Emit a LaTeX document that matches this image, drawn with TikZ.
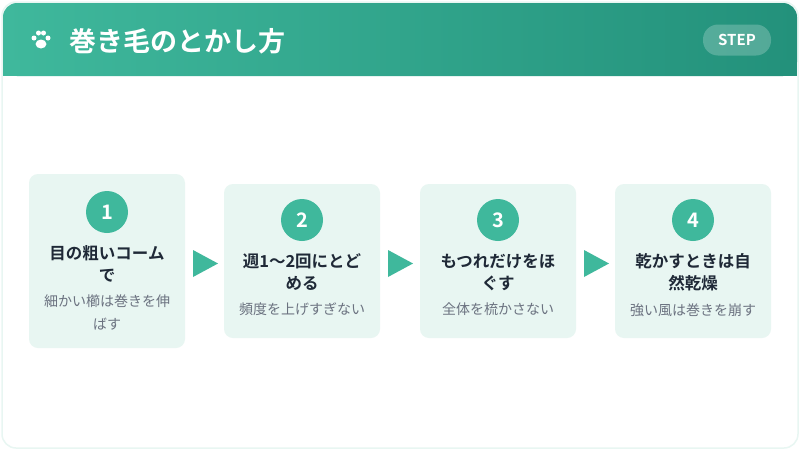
\documentclass[tikz,border=0pt]{standalone}
\usepackage{fontspec}
\setmainfont{Noto Sans CJK JP}
\newfontfamily\boldcjk{Noto Sans CJK JP Bold}
\usetikzlibrary{positioning,shadings}
\definecolor{HTeal}{HTML}{3FB89C}
\definecolor{HDeep}{HTML}{23917B}
\definecolor{CMint}{HTML}{E8F6F2}
\definecolor{TDark}{HTML}{1F2937}
\definecolor{TGray}{HTML}{6B7280}
\tikzset{
    card/.style = {fill=CMint, rounded corners=9pt},
    num/.style = {circle, fill=HTeal, minimum size=42pt, inner sep=0pt,
        text=white, font=\boldcjk\fontsize{20}{20}\selectfont},
    ttl/.style = {align=center, text=TDark, font=\boldcjk\fontsize{16.5}{22}\selectfont},
    sub/.style = {align=center, text=TGray, font=\fontsize{14}{23}\selectfont},
    tri/.style = {fill=HTeal}
}
\begin{document}
\begin{tikzpicture}[x=1pt,y=-1pt]
\useasboundingbox (0,0) rectangle (800,450);
\draw[fill=white, draw=CMint, line width=1.5pt, rounded corners=14pt] (2,2) rectangle (798,448);
% header
\shade[left color=HTeal, right color=HDeep, rounded corners=14pt]
    (3,76) -- (3,3) -- (797,3) -- (797,76) -- cycle;
\fill[HTeal] (3,60) rectangle (20,76);
\fill[HDeep] (780,60) rectangle (797,76);
% paw
\fill[white] (41,44) ellipse (5.5pt and 4.5pt);
\foreach \px/\py in {34/38, 38.5/33, 43.5/33, 48/38} \fill[white] (\px,\py) circle (2.5pt);
\node[anchor=west, text=white, font=\boldcjk\fontsize{27}{27}\selectfont] (title) at (66,41) {巻き毛のとかし方};
\node[fill=white, fill opacity=.22, text opacity=1, text=white, rounded corners=15pt,
    minimum width=68pt, minimum height=31pt, font=\boldcjk\fontsize{15}{15}\selectfont] (step) at (737,40) {STEP};
% cards
\fill[card] (29,174) rectangle (185,348);
\fill[card] (224,184) rectangle (380,338);
\fill[card] (420,184) rectangle (576,338);
\fill[card] (615,184) rectangle (771,338);
\node[num] (n1) at (107,212) {1};
\node[num] (n2) at (302,220) {2};
\node[num] (n3) at (498,220) {3};
\node[num] (n4) at (693,220) {4};
\node[ttl, below=9pt of n1] (t1) {目の粗いコーム\\で};
\node[ttl, below=9pt of n2] (t2) {週1〜2回にとど\\める};
\node[ttl, below=9pt of n3] (t3) {もつれだけをほ\\ぐす};
\node[ttl, below=9pt of n4] (t4) {乾かすときは自\\然乾燥};
\node[sub, below=5pt of t1] (s1) {細かい櫛は巻きを伸\\ばす};
\node[sub, below=5pt of t2] (s2) {頻度を上げすぎない};
\node[sub, below=5pt of t3] (s3) {全体を梳かさない};
\node[sub, below=5pt of t4] (s4) {強い風は巻きを崩す};
% arrows
\foreach \ax in {193,388,584} \fill[tri] (\ax,250) -- (\ax+25,263.5) -- (\ax,277) -- cycle;
\end{tikzpicture}
\end{document}
